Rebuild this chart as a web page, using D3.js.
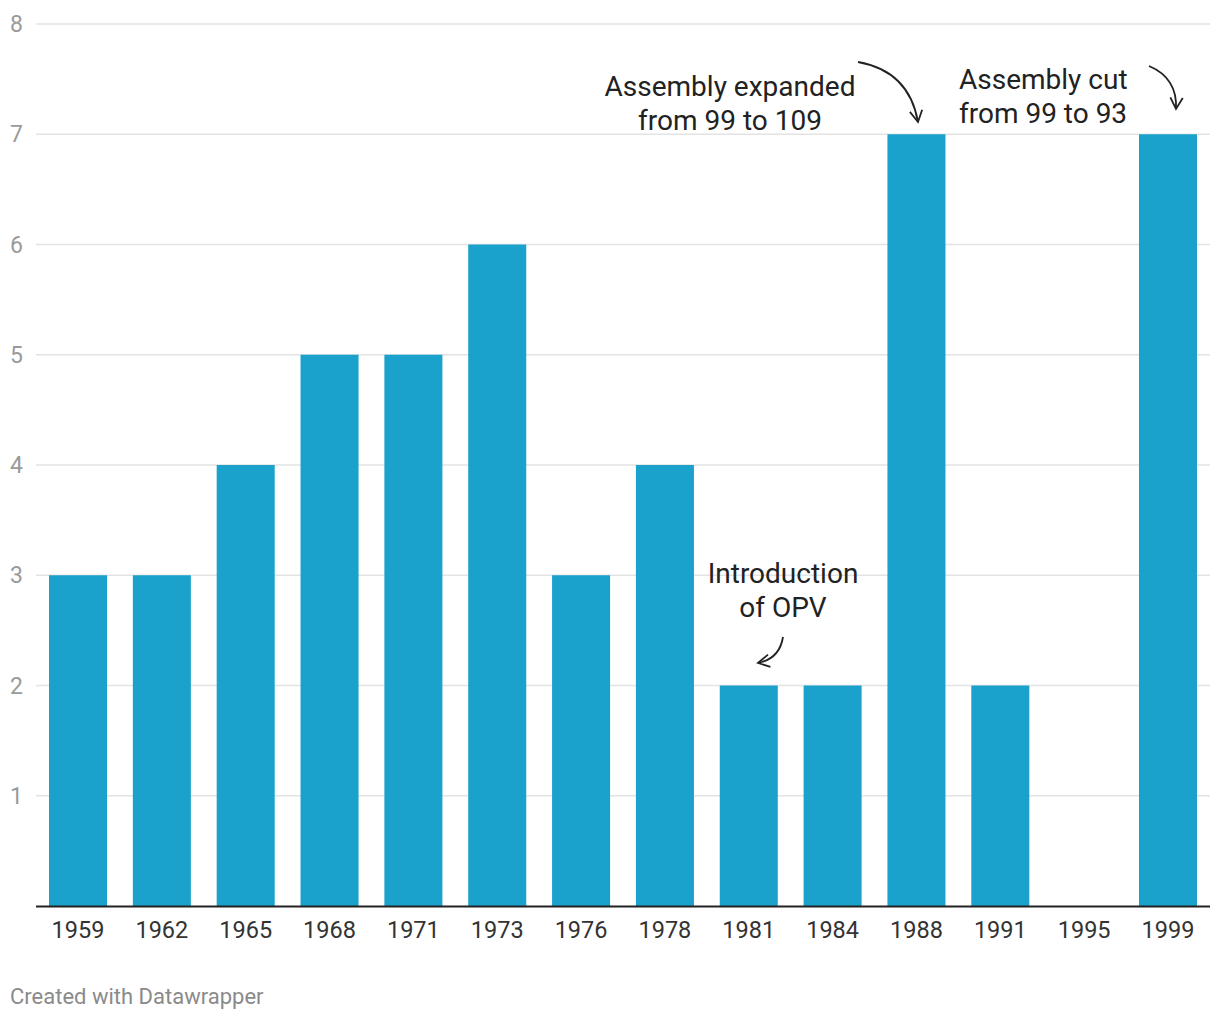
<!DOCTYPE html>
<html><head><meta charset="utf-8">
<script src="https://cdn.jsdelivr.net/npm/d3@7"></script>
<style>body{margin:0;background:#fff;font-family:Roboto,sans-serif;}</style>
</head><body>
<svg id="c" width="1220" height="1020"></svg>
<script>
const years = ["1959","1962","1965","1968","1971","1973","1976","1978","1981","1984","1988","1991","1995","1999"];
const values = [3,3,4,5,5,6,3,4,2,2,7,2,0,7];
const yTicks = [1,2,3,4,5,6,7,8];
const annotations = [
  {lines:["Assembly expanded","from 99 to 109"], x:730, y:96, anchor:"middle"},
  {lines:["Assembly cut","from 99 to 93"], x:959, y:89, anchor:"start"},
  {lines:["Introduction","of OPV"], x:783, y:583, anchor:"middle"}
];
const arrows = [
  {from:[858,62], to:[918,122], bend:-0.35},
  {from:[1149,66], to:[1176,109], bend:-0.35},
  {from:[783,637], to:[758,663], bend:-0.35}
];

const svg = d3.select("#c");
const x = d3.scaleBand().domain(years).range([36,1210]).paddingInner(0.308).paddingOuter(0.155);
const y = d3.scaleLinear().domain([0,8]).range([906,24]);

// grid
svg.append("g").selectAll("line").data(yTicks).join("line")
  .attr("x1",36).attr("x2",1210).attr("y1",d=>y(d)).attr("y2",d=>y(d))
  .attr("stroke","#e3e3e3").attr("stroke-width",1.5);
svg.append("g").selectAll("text").data(yTicks).join("text")
  .attr("x",10).attr("y",d=>y(d)+8).text(d=>d)
  .attr("font-size",23).attr("fill","#9a9a9a");

// bars
svg.append("g").selectAll("rect").data(years).join("rect")
  .attr("x",d=>x(d)).attr("width",x.bandwidth())
  .attr("y",(d,i)=>y(values[i])).attr("height",(d,i)=>y(0)-y(values[i]))
  .attr("fill","#1aa1cc");

// baseline
svg.append("line").attr("x1",36).attr("x2",1210).attr("y1",y(0)+0.5).attr("y2",y(0)+0.5)
  .attr("stroke","#222").attr("stroke-width",2);

// x labels
svg.append("g").selectAll("text").data(years).join("text")
  .attr("x",d=>x(d)+x.bandwidth()/2).attr("y",938).attr("text-anchor","middle")
  .attr("font-size",23.5).attr("fill","#333").text(d=>d);

// annotations
annotations.forEach(a=>{
  const t = svg.append("text").attr("x",a.x).attr("y",a.y).attr("text-anchor",a.anchor)
    .attr("font-size",28).attr("fill","#222");
  a.lines.forEach((l,i)=>t.append("tspan").attr("x",a.x).attr("dy",i?33.5:0).text(l));
});

// arrows
arrows.forEach(ar=>{
  const [x1,y1]=ar.from,[x2,y2]=ar.to;
  const mx=(x1+x2)/2, my=(y1+y2)/2, dx=x2-x1, dy=y2-y1;
  const cx = mx - dy*ar.bend, cy = my + dx*ar.bend;
  svg.append("path").attr("d",`M${x1},${y1}Q${cx},${cy} ${x2},${y2}`)
    .attr("fill","none").attr("stroke","#222").attr("stroke-width",1.8);
  const ang = Math.atan2(y2-cy, x2-cx);
  const L=13, s=0.5;
  const p1=[x2-L*Math.cos(ang-s), y2-L*Math.sin(ang-s)];
  const p2=[x2-L*Math.cos(ang+s), y2-L*Math.sin(ang+s)];
  svg.append("path").attr("d",`M${p1}L${x2},${y2}L${p2}`)
    .attr("fill","none").attr("stroke","#222").attr("stroke-width",1.8);
});

svg.append("text").attr("x",10).attr("y",1004).attr("font-size",22).attr("fill","#8a8a8a")
  .text("Created with Datawrapper");
</script>
</body></html>
